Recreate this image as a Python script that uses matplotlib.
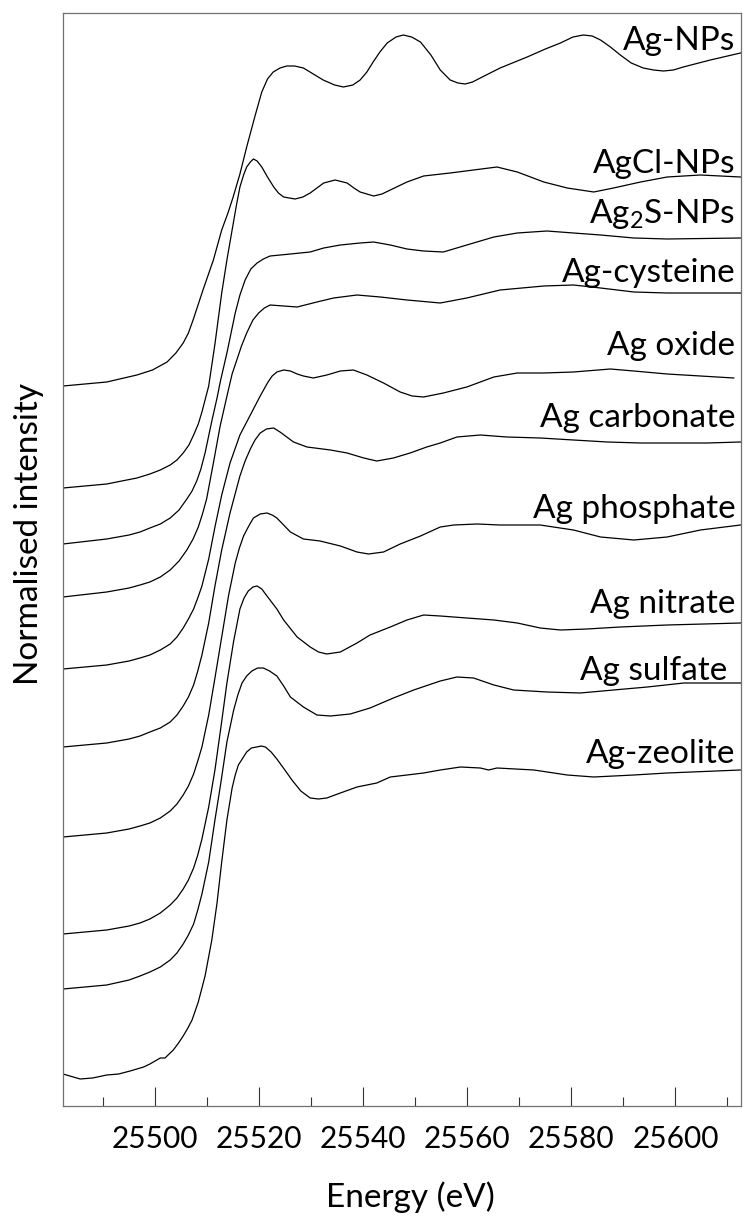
import matplotlib.pyplot as plt
from matplotlib.ticker import MultipleLocator

plt.rcParams['font.family'] = ['Lato', 'DejaVu Sans']
plt.rcParams['mathtext.fontset'] = 'custom'
plt.rcParams['mathtext.rm'] = 'Lato'

# Ag K-edge XANES, (energy eV, stacked normalised intensity)
ag_nps = [(25482.3, 7.20), (25490.7, 7.24), (25496.5, 7.31), (25499.5, 7.36), (25502.3, 7.44),
          (25504.0, 7.53), (25505.4, 7.63), (25506.4, 7.73), (25507.3, 7.86), (25509.2, 8.16),
          (25511.2, 8.46), (25512.8, 8.76), (25514.0, 8.93), (25515.0, 9.09), (25516.3, 9.32),
          (25517.6, 9.59), (25519.2, 9.90), (25520.5, 10.14), (25521.6, 10.27), (25522.7, 10.34),
          (25524.0, 10.38), (25525.3, 10.40), (25526.8, 10.40), (25528.5, 10.38), (25530.4, 10.32),
          (25532.3, 10.26), (25534.5, 10.21), (25536.2, 10.19), (25538.0, 10.21), (25539.4, 10.26),
          (25540.7, 10.34), (25541.9, 10.44), (25543.2, 10.54), (25544.6, 10.63), (25546.3, 10.69),
          (25547.7, 10.71), (25549.3, 10.69), (25551.0, 10.64), (25553.0, 10.51), (25554.8, 10.36),
          (25556.7, 10.26), (25558.2, 10.23), (25559.6, 10.22), (25561.0, 10.24), (25562.5, 10.28),
          (25566.3, 10.38), (25571.5, 10.49), (25575.0, 10.57), (25577.9, 10.63), (25580.3, 10.69),
          (25582.3, 10.71), (25584.0, 10.70), (25585.6, 10.66), (25587.5, 10.59), (25589.4, 10.51),
          (25591.5, 10.43), (25593.8, 10.38), (25595.8, 10.36), (25597.7, 10.35), (25599.6, 10.36),
          (25601.5, 10.39), (25606.7, 10.46), (25612.5, 10.53)]

agcl_nps = [(25482.3, 6.18), (25490.7, 6.22), (25496.5, 6.28), (25499.0, 6.32), (25501.0, 6.36),
            (25502.9, 6.41), (25504.2, 6.46), (25505.4, 6.53), (25506.5, 6.61), (25507.4, 6.71),
            (25508.3, 6.82), (25509.0, 6.94), (25510.3, 7.20), (25511.5, 7.62), (25512.8, 8.13),
            (25513.8, 8.46), (25514.8, 8.76), (25515.6, 9.00), (25516.3, 9.19), (25517.0, 9.31),
            (25517.6, 9.39), (25518.3, 9.44), (25518.9, 9.47), (25519.6, 9.45), (25520.5, 9.39),
            (25521.6, 9.29), (25522.8, 9.19), (25523.7, 9.13), (25524.7, 9.09), (25526.9, 9.07),
            (25528.4, 9.09), (25529.8, 9.13), (25531.1, 9.18), (25532.4, 9.23), (25534.6, 9.26),
            (25536.9, 9.23), (25538.2, 9.18), (25539.4, 9.14), (25542.0, 9.10), (25543.6, 9.12),
            (25545.2, 9.16), (25548.4, 9.24), (25551.6, 9.30), (25556.7, 9.33), (25561.2, 9.36),
            (25565.7, 9.39), (25569.6, 9.34), (25574.7, 9.24), (25579.2, 9.18), (25584.3, 9.14),
            (25588.1, 9.18), (25593.3, 9.24), (25598.4, 9.29), (25604.8, 9.31), (25612.5, 9.29)]

ag2s_nps = [(25482.3, 5.62), (25490.7, 5.67), (25495.0, 5.71), (25497.1, 5.74), (25499.0, 5.78),
            (25501.0, 5.82), (25502.9, 5.88), (25504.6, 5.96), (25506.1, 6.07), (25507.1, 6.15),
            (25508.0, 6.25), (25508.8, 6.37), (25509.6, 6.53), (25510.9, 6.85), (25511.9, 7.08),
            (25512.6, 7.26), (25513.8, 7.53), (25515.4, 7.93), (25516.3, 8.11), (25517.3, 8.26),
            (25518.4, 8.37), (25519.6, 8.43), (25520.8, 8.47), (25522.1, 8.50), (25526.0, 8.52),
            (25529.8, 8.54), (25532.4, 8.58), (25535.6, 8.61), (25539.4, 8.63), (25542.0, 8.64),
            (25545.2, 8.61), (25548.4, 8.57), (25551.6, 8.55), (25555.4, 8.54), (25559.9, 8.61),
            (25565.1, 8.69), (25569.6, 8.73), (25575.3, 8.75), (25580.4, 8.73), (25585.6, 8.71),
            (25592.0, 8.68), (25598.4, 8.67), (25612.5, 8.68)]

ag_cysteine = [(25482.3, 5.09), (25490.7, 5.14), (25495.0, 5.18), (25497.1, 5.21), (25499.0, 5.24),
               (25501.0, 5.29), (25502.9, 5.36), (25504.6, 5.45), (25506.1, 5.56), (25507.3, 5.67),
               (25508.3, 5.79), (25509.1, 5.92), (25509.9, 6.07), (25511.2, 6.43), (25512.5, 6.80),
               (25513.9, 7.12), (25514.8, 7.32), (25515.7, 7.46), (25516.6, 7.60), (25517.6, 7.73),
               (25518.8, 7.86), (25519.9, 7.93), (25521.0, 7.98), (25522.1, 8.01), (25524.7, 8.00),
               (25527.3, 7.99), (25531.1, 8.04), (25534.3, 8.08), (25538.8, 8.11), (25543.3, 8.09),
               (25548.4, 8.06), (25554.8, 8.03), (25559.9, 8.08), (25566.3, 8.16), (25574.7, 8.20),
               (25580.4, 8.21), (25585.6, 8.18), (25592.0, 8.14), (25598.4, 8.13), (25612.5, 8.13)]

ag_oxide = [(25482.3, 4.37), (25490.7, 4.41), (25495.0, 4.45), (25497.1, 4.48), (25499.0, 4.51),
            (25501.0, 4.56), (25502.9, 4.62), (25504.2, 4.69), (25505.4, 4.78), (25506.4, 4.87),
            (25507.4, 4.97), (25508.2, 5.08), (25509.0, 5.20), (25510.3, 5.47), (25511.5, 5.79),
            (25512.8, 6.11), (25514.4, 6.43), (25516.3, 6.71), (25518.3, 6.91), (25520.2, 7.10),
            (25521.7, 7.24), (25522.5, 7.30), (25523.4, 7.34), (25524.7, 7.36), (25526.0, 7.35),
            (25527.3, 7.32), (25528.5, 7.30), (25530.4, 7.28), (25533.0, 7.31), (25535.6, 7.35),
            (25538.1, 7.36), (25540.7, 7.31), (25543.9, 7.23), (25547.1, 7.14), (25549.4, 7.10),
            (25551.6, 7.09), (25555.4, 7.13), (25559.9, 7.19), (25565.1, 7.29), (25569.6, 7.33),
            (25574.7, 7.33), (25580.4, 7.34), (25587.5, 7.37), (25592.0, 7.35), (25598.4, 7.32),
            (25604.8, 7.30), (25611.2, 7.28)]

ag_carbonate = [(25482.3, 3.59), (25490.7, 3.63), (25495.0, 3.67), (25497.1, 3.70), (25499.0, 3.74),
                (25501.0, 3.78), (25502.9, 3.84), (25504.2, 3.91), (25505.4, 4.00), (25506.4, 4.09),
                (25507.4, 4.21), (25508.2, 4.35), (25509.0, 4.51), (25510.3, 4.83), (25511.5, 5.20),
                (25512.8, 5.56), (25514.4, 5.93), (25516.3, 6.30), (25517.3, 6.45), (25518.3, 6.57),
                (25519.2, 6.66), (25520.2, 6.73), (25521.4, 6.77), (25522.8, 6.78), (25524.0, 6.74),
                (25525.3, 6.69), (25526.6, 6.64), (25529.2, 6.59), (25533.7, 6.56), (25536.9, 6.53),
                (25540.1, 6.48), (25542.6, 6.45), (25545.8, 6.48), (25549.0, 6.53), (25552.2, 6.59),
                (25554.8, 6.63), (25558.0, 6.69), (25562.5, 6.71), (25567.6, 6.69), (25574.0, 6.68),
                (25580.4, 6.66), (25586.9, 6.64), (25593.3, 6.63), (25599.7, 6.63), (25606.1, 6.63),
                (25612.5, 6.64)]

ag_phosphate = [(25482.3, 2.69), (25490.7, 2.73), (25495.0, 2.77), (25497.1, 2.80), (25499.0, 2.83),
                (25501.0, 2.88), (25502.9, 2.95), (25504.2, 3.02), (25505.4, 3.11), (25506.4, 3.20),
                (25507.4, 3.32), (25508.2, 3.45), (25509.0, 3.59), (25510.3, 3.91), (25511.5, 4.28),
                (25512.8, 4.69), (25514.1, 5.10), (25515.4, 5.43), (25516.2, 5.58), (25517.0, 5.70),
                (25518.0, 5.80), (25518.9, 5.88), (25520.2, 5.92), (25521.5, 5.93), (25522.5, 5.91),
                (25523.4, 5.88), (25524.7, 5.81), (25526.0, 5.74), (25528.5, 5.67), (25531.7, 5.65),
                (25535.6, 5.60), (25538.8, 5.54), (25541.0, 5.52), (25543.9, 5.54), (25547.1, 5.62),
                (25551.0, 5.70), (25554.8, 5.79), (25557.4, 5.81), (25561.9, 5.82), (25566.3, 5.81),
                (25574.0, 5.81), (25580.4, 5.76), (25585.6, 5.69), (25592.0, 5.66), (25598.4, 5.69),
                (25604.8, 5.76), (25612.5, 5.81)]

ag_nitrate = [(25482.3, 1.72), (25490.7, 1.76), (25495.0, 1.80), (25497.1, 1.83), (25499.0, 1.87),
              (25501.0, 1.93), (25502.9, 2.01), (25504.2, 2.08), (25505.4, 2.17), (25506.4, 2.26),
              (25507.4, 2.38), (25508.2, 2.51), (25509.0, 2.67), (25510.3, 2.99), (25511.5, 3.36),
              (25512.6, 3.77), (25513.8, 4.23), (25515.1, 4.65), (25516.3, 4.97), (25517.1, 5.08),
              (25517.9, 5.15), (25518.8, 5.19), (25519.6, 5.20), (25520.5, 5.17), (25521.5, 5.10),
              (25523.4, 4.97), (25524.7, 4.86), (25527.3, 4.69), (25529.8, 4.59), (25531.4, 4.54),
              (25533.0, 4.52), (25535.6, 4.54), (25538.8, 4.63), (25541.3, 4.71), (25545.2, 4.79),
              (25548.4, 4.86), (25551.6, 4.91), (25554.8, 4.90), (25559.9, 4.88), (25565.1, 4.86),
              (25569.6, 4.83), (25574.0, 4.78), (25577.9, 4.76), (25583.0, 4.77), (25589.4, 4.79),
              (25598.4, 4.81), (25612.5, 4.83)]

ag_sulfate = [(25482.3, 1.17), (25490.7, 1.21), (25495.0, 1.26), (25497.1, 1.30), (25499.0, 1.34),
              (25501.0, 1.39), (25502.9, 1.46), (25504.2, 1.53), (25505.4, 1.62), (25506.4, 1.71),
              (25507.4, 1.82), (25508.2, 1.96), (25509.0, 2.12), (25510.3, 2.44), (25511.5, 2.86),
              (25512.6, 3.22), (25513.8, 3.64), (25515.1, 3.96), (25515.9, 4.11), (25516.7, 4.23),
              (25517.6, 4.30), (25518.6, 4.35), (25519.7, 4.38), (25520.8, 4.38), (25522.0, 4.35),
              (25523.4, 4.30), (25524.7, 4.20), (25526.0, 4.09), (25528.5, 3.99), (25531.1, 3.91),
              (25533.7, 3.90), (25537.5, 3.92), (25541.3, 3.98), (25545.8, 4.08), (25549.7, 4.16),
              (25554.8, 4.25), (25558.0, 4.29), (25561.2, 4.28), (25565.1, 4.21), (25568.9, 4.16),
              (25575.3, 4.14), (25581.7, 4.13), (25588.1, 4.16), (25594.6, 4.19), (25601.6, 4.23),
              (25612.5, 4.23)]

ag_zeolite = [(25482.3, 0.32), (25485.6, 0.27), (25488.0, 0.28), (25490.7, 0.31), (25493.0, 0.32),
              (25495.2, 0.35), (25497.8, 0.39), (25499.0, 0.42), (25501.0, 0.48), (25501.9, 0.48),
              (25503.5, 0.56), (25504.5, 0.63), (25505.4, 0.70), (25506.3, 0.78), (25507.1, 0.86),
              (25508.3, 1.04), (25509.6, 1.30), (25510.9, 1.66), (25511.9, 2.03), (25512.8, 2.44),
              (25513.8, 2.86), (25514.8, 3.18), (25515.4, 3.31), (25516.0, 3.41), (25517.6, 3.54),
              (25518.5, 3.58), (25519.5, 3.59), (25520.4, 3.60), (25521.2, 3.59), (25522.3, 3.54),
              (25523.4, 3.47), (25524.8, 3.37), (25526.3, 3.26), (25528.0, 3.15), (25529.8, 3.08),
              (25531.4, 3.07), (25533.0, 3.08), (25535.6, 3.13), (25538.8, 3.19), (25542.6, 3.23),
              (25545.2, 3.29), (25548.4, 3.31), (25551.6, 3.33), (25554.8, 3.36), (25558.7, 3.39),
              (25562.5, 3.38), (25564.1, 3.36), (25565.7, 3.38), (25572.8, 3.36), (25579.2, 3.31),
              (25584.3, 3.29), (25592.0, 3.31), (25598.4, 3.33), (25612.5, 3.36)]

names = ["Ag-NPs", "AgCl-NPs", "Ag$_\\mathregular{2}$S-NPs", "Ag-cysteine", "Ag oxide",
         "Ag carbonate", "Ag phosphate", "Ag nitrate", "Ag sulfate ", "Ag-zeolite"]
label_y = [10.56, 9.33, 8.83, 8.24, 7.51, 6.79, 5.88, 4.93, 4.26, 3.43]

spectra = [ag_nps, agcl_nps, ag2s_nps, ag_cysteine, ag_oxide,
           ag_carbonate, ag_phosphate, ag_nitrate, ag_sulfate, ag_zeolite]


def main():
    fig = plt.figure(figsize=(7.44, 12.18), dpi=100)
    ax = fig.add_axes([63 / 744, 1 - 1106 / 1218, 677.5 / 744, 1093.3 / 1218])

    for spec, name, ly in zip(spectra, names, label_y):
        e, mu = zip(*spec)
        ax.plot(e, mu, color="black", lw=0.9)
        ax.text(25611.5, ly, name, ha="right", va="baseline", fontsize=24)

    ax.set_xlim(25482.3, 25612.5)
    ax.set_ylim(0, 10.933)

    ax.xaxis.set_major_locator(MultipleLocator(20))
    ax.xaxis.set_minor_locator(MultipleLocator(10))
    ax.tick_params(axis="x", which="major", direction="in", length=13.5, width=0.8,
                   color="#333333", labelsize=21.5, pad=13.5)
    ax.tick_params(axis="x", which="minor", direction="in", length=6.5, width=0.8,
                   color="#333333")
    ax.tick_params(axis="y", left=False, labelleft=False)
    ax.ticklabel_format(axis="x", useOffset=False, style="plain")

    for s in ax.spines.values():
        s.set_color("#707070")
        s.set_linewidth(0.9)

    fig.text(29 / 744, 1 - 533.5 / 1218, "Normalised intensity", rotation=90,
             ha="center", va="center", fontsize=24)
    fig.text(410 / 744, 1 - 1207 / 1218, "Energy (eV)", ha="center", va="baseline",
             fontsize=24)

    fig.savefig("out.png", dpi=100)


if __name__ == "__main__":
    main()
